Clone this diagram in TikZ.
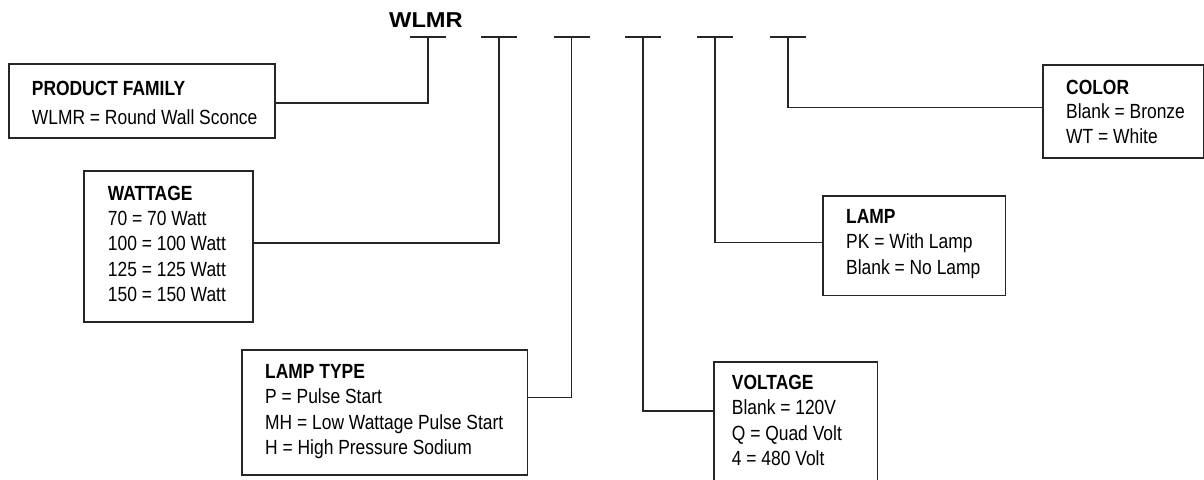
\documentclass[tikz,border=0pt]{standalone}
\usepackage{fontspec}
\setmainfont{Liberation Sans}[FakeStretch=0.85]
\newfontfamily\titlefont{Liberation Sans}[FakeStretch=1.1]
\usetikzlibrary{calc}
\begin{document}
\begin{tikzpicture}[x=1pt,y=-1pt,
  box/.style={draw=black!85, line width=1.6pt, anchor=north west, inner sep=0pt},
  conn/.style={draw=black!85, line width=1.6pt},
  slot/.style={draw=black!85, line width=1.6pt},
  txt/.style={anchor=base west, inner sep=0pt, align=flush left, text width=300pt,
              font=\fontsize{20.5}{25.4}\selectfont},
  ttl/.style={anchor=base west, inner sep=0pt, font=\fontsize{21.5}{24}\titlefont\bfseries}]
\clip (0,0) rectangle (1204,479);
\fill[white] (0,0) rectangle (1204,479);

% title and code slots
\node[ttl] (title) at (389,27.7) {WLMR};
\foreach \n/\c in {1/428,2/499,3/571.5,4/643,5/715,6/788}{
  \coordinate (t\n) at (\c,37);
  \draw[slot] ($(t\n)+(-18,0)$) -- ($(t\n)+(18,0)$);
}

% boxes
\node[box, minimum width=266pt, minimum height=74pt]   (prod)  at (8,63) {};
\node[box, minimum width=169pt, minimum height=151pt]  (watt)  at (83,170) {};
\node[box, minimum width=285.5pt, minimum height=125pt] (ltype) at (241,349) {};
\node[box, minimum width=163.5pt, minimum height=140pt] (volt)  at (713,361) {};
\node[box, minimum width=182.5pt, minimum height=99.5pt] (lamp) at (822,195) {};
\node[box, minimum width=161pt, minimum height=93pt]   (color) at (1042,64) {};

% texts
\node[txt] (prodtxt) at (31.7,95.7) {\textbf{PRODUCT FAMILY}\\[2.9pt]WLMR = Round Wall Sconce};
\node[txt] (watttxt) at (107.7,200) {\textbf{WATTAGE}\\70 = 70 Watt\\100 = 100 Watt\\125 = 125 Watt\\150 = 150 Watt};
\node[txt] (ltypetxt) at (265,378.3) {\textbf{LAMP TYPE}\\P = Pulse Start\\MH = Low Wattage Pulse Start\\H = High Pressure Sodium};
\node[txt] (volttxt) at (731.7,389.3) {\textbf{VOLTAGE}\\Blank = 120V\\Q = Quad Volt\\4 = 480 Volt};
\node[txt] (lamptxt) at (846,223.3) {\textbf{LAMP}\\PK = With Lamp\\Blank = No Lamp};
\node[txt, font=\fontsize{20.5}{24.5}\selectfont] (colortxt) at (1066,94.3) {\textbf{COLOR}\\Blank = Bronze\\WT = White};

% connectors
\coordinate (k1) at (428,103);
\coordinate (k2) at (499,243);
\coordinate (k3) at (571.5,397.5);
\coordinate (k4) at (643,411);
\coordinate (k5) at (715,242.5);
\coordinate (k6) at (788,107.5);
\draw[conn] (t1) -- (k1) -- (prod.east |- k1);
\draw[conn] (t2) -- (k2) -- (watt.east |- k2);
\draw[conn] (t3) -- (k3) -- (ltype.east |- k3);
\draw[conn] (t4) -- (k4) -- (volt.west |- k4);
\draw[conn] (t5) -- (k5) -- (lamp.west |- k5);
\draw[conn] (t6) -- (k6) -- (color.west |- k6);
\end{tikzpicture}
\end{document}
